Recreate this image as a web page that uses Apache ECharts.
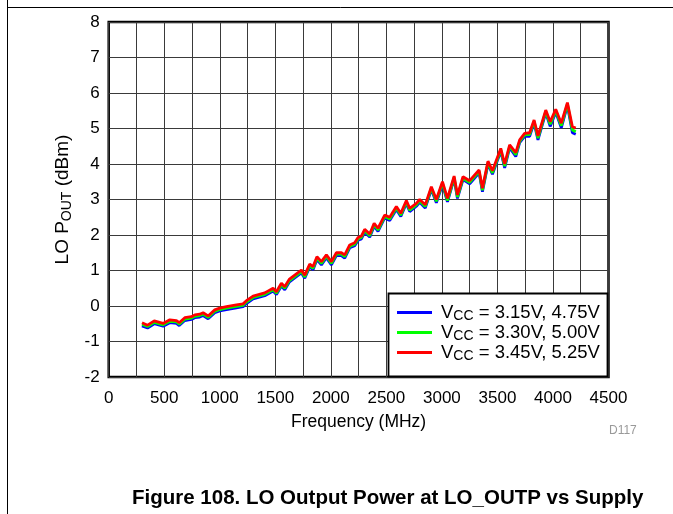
<!DOCTYPE html>
<html>
<head>
<meta charset="utf-8">
<script src="https://cdn.jsdelivr.net/npm/echarts@6/dist/echarts.min.js"></script>
<style>
  html, body { margin: 0; padding: 0; background: #fff; }
  #chart { width: 673px; height: 514px; }
</style>
</head>
<body>
<div id="chart"></div>
<script>
// LO output power vs frequency, three supply settings
const freqMHz = [300,350,410,490,550,610,635,685,745,775,820,850,895,955,1000,1060,1150,1210,1240,1300,1405,1480,1510,1555,1585,1625,1675,1735,1765,1810,1840,1875,1915,1960,2005,2050,2095,2125,2170,2215,2245,2275,2305,2350,2390,2425,2485,2530,2590,2630,2680,2710,2770,2800,2850,2905,2950,3005,3050,3110,3140,3190,3250,3335,3365,3415,3455,3530,3565,3610,3665,3700,3745,3790,3830,3865,3935,3975,4025,4075,4130,4175,4205];

const pBlue = [-0.56,-0.62,-0.50,-0.57,-0.47,-0.49,-0.55,-0.41,-0.38,-0.33,-0.31,-0.27,-0.36,-0.19,-0.14,-0.10,-0.05,-0.02,0.07,0.20,0.29,0.42,0.32,0.56,0.46,0.67,0.79,0.93,0.78,1.10,1.02,1.31,1.16,1.36,1.16,1.42,1.42,1.35,1.64,1.70,1.85,1.89,2.08,1.94,2.25,2.10,2.48,2.41,2.72,2.52,2.89,2.66,2.81,2.92,2.76,3.28,2.91,3.42,2.93,3.58,3.03,3.56,3.44,3.75,3.22,4.00,3.71,4.36,3.89,4.46,4.21,4.60,4.78,4.78,5.16,4.68,5.44,5.06,5.46,5.02,5.65,4.88,4.84];

const pGreen = [-0.51,-0.58,-0.46,-0.53,-0.43,-0.45,-0.51,-0.37,-0.34,-0.29,-0.27,-0.23,-0.32,-0.15,-0.10,-0.06,-0.01,0.02,0.11,0.24,0.33,0.46,0.36,0.60,0.50,0.71,0.83,0.97,0.82,1.14,1.06,1.35,1.20,1.40,1.20,1.46,1.46,1.39,1.68,1.74,1.89,1.93,2.12,1.98,2.29,2.14,2.52,2.45,2.76,2.56,2.93,2.70,2.85,2.96,2.80,3.32,2.95,3.46,2.97,3.62,3.07,3.60,3.48,3.79,3.26,4.04,3.75,4.40,3.94,4.50,4.26,4.64,4.82,4.83,5.20,4.73,5.48,5.12,5.50,5.08,5.69,4.96,4.91];

const pRed = [-0.47,-0.54,-0.42,-0.49,-0.39,-0.41,-0.47,-0.33,-0.30,-0.25,-0.23,-0.19,-0.28,-0.11,-0.06,-0.02,0.03,0.06,0.15,0.28,0.37,0.50,0.40,0.64,0.54,0.75,0.87,1.01,0.87,1.18,1.11,1.39,1.25,1.44,1.25,1.50,1.50,1.44,1.72,1.78,1.93,1.97,2.16,2.03,2.33,2.19,2.56,2.50,2.80,2.61,2.97,2.75,2.89,3.00,2.85,3.36,3.00,3.50,3.03,3.66,3.13,3.64,3.53,3.83,3.32,4.08,3.81,4.44,4.00,4.54,4.32,4.68,4.86,4.88,5.24,4.79,5.52,5.19,5.54,5.15,5.73,5.05,5.01];

const seriesNames = ['VCC = 3.15V, 4.75V', 'VCC = 3.30V, 5.00V', 'VCC = 3.45V, 5.25V'];
const seriesColors = ['#0000ff', '#00ff00', '#ff0000'];
const seriesValues = [pBlue, pGreen, pRed];

const FONT = 'Liberation Sans, Arial, sans-serif';

const chart = echarts.init(document.getElementById('chart'), null, { renderer: 'canvas' });

const series = seriesValues.map((vals, k) => ({
  name: seriesNames[k],
  type: 'line',
  data: freqMHz.map((f, i) => [f, vals[i]]),
  showSymbol: false,
  smooth: false,
  lineStyle: { color: seriesColors[k], width: 2.8 },
  itemStyle: { color: seriesColors[k] },
  z: 2 + k,
  animation: false
}));

const gridLine = { show: true, lineStyle: { color: '#3a3a3a', width: 1 } };

chart.setOption({
  animation: false,
  backgroundColor: '#fff',
  grid: {
    left: 108.7, right: 64.5, top: 22, bottom: 137,
    show: true, borderColor: '#000', borderWidth: 2.5, backgroundColor: 'transparent'
  },
  xAxis: {
    type: 'value', min: 0, max: 4500, interval: 500,
    name: 'Frequency (MHz)', nameLocation: 'middle', nameGap: 36,
    nameTextStyle: { fontFamily: FONT, fontSize: 17.5, color: '#000' },
    axisLine: { show: false },
    axisTick: { show: false },
    axisLabel: { fontFamily: FONT, fontSize: 17, color: '#000', margin: 13, formatter: v => String(v) },
    splitLine: gridLine,
    minorTick: { show: false, splitNumber: 2 },
    minorSplitLine: { show: true, lineStyle: { color: '#3a3a3a', width: 1 } }
  },
  yAxis: {
    type: 'value', min: -2, max: 8, interval: 1,
    name: '{n|LO P}{s|OUT}{n| (dBm)}', nameLocation: 'middle', nameGap: 34,
    nameTextStyle: {
      fontFamily: FONT, color: '#000',
      rich: {
        n: { fontFamily: FONT, fontSize: 19, color: '#000', lineHeight: 22 },
        s: { fontFamily: FONT, fontSize: 14, color: '#000', lineHeight: 11, verticalAlign: 'bottom' }
      }
    },
    axisLine: { show: false },
    axisTick: { show: false },
    axisLabel: { fontFamily: FONT, fontSize: 17, color: '#000', margin: 9 },
    splitLine: gridLine
  },
  legend: {
    orient: 'vertical',
    left: 397, top: 303,
    itemWidth: 35, itemHeight: 3, itemGap: 0,
    icon: 'rect',
    padding: 0,
    data: seriesNames.map((n, k) => ({ name: n, itemStyle: { color: seriesColors[k] } })),
    formatter: name => '{n|V}{s|CC}{n|' + name.slice(3) + '}',
    textStyle: {
      fontFamily: FONT, color: '#000', padding: [0, 0, 0, 4],
      rich: {
        n: { fontFamily: FONT, fontSize: 18.5, color: '#000', lineHeight: 21 },
        s: { fontFamily: FONT, fontSize: 14, color: '#000', lineHeight: 10, verticalAlign: 'bottom' }
      }
    },
    z: 10
  },
  graphic: [
    // page frame lines
    { type: 'line', shape: { x1: 7.5, y1: 0, x2: 7.5, y2: 514 }, style: { stroke: '#000', lineWidth: 1 }, silent: true },
    { type: 'line', shape: { x1: 7.5, y1: 7.5, x2: 673, y2: 7.5 }, style: { stroke: '#000', lineWidth: 1 }, silent: true },
    // legend box
    { type: 'rect', shape: { x: 388.5, y: 293.5, width: 219, height: 83 },
      style: { fill: '#fff', stroke: '#000', lineWidth: 1.8 }, z: 5, silent: true },
    { type: 'text', left: 609, top: 425,
      style: { text: 'D117', fontFamily: FONT, fontSize: 12, fill: '#999' }, silent: true },
    { type: 'text', left: 132, top: 488,
      style: { text: 'Figure 108. LO Output Power at LO_OUTP vs Supply', fontFamily: FONT, fontSize: 20.5, fontWeight: 'bold', fill: '#000' },
      silent: true }
  ],
  series: series
});
</script>
</body>
</html>
